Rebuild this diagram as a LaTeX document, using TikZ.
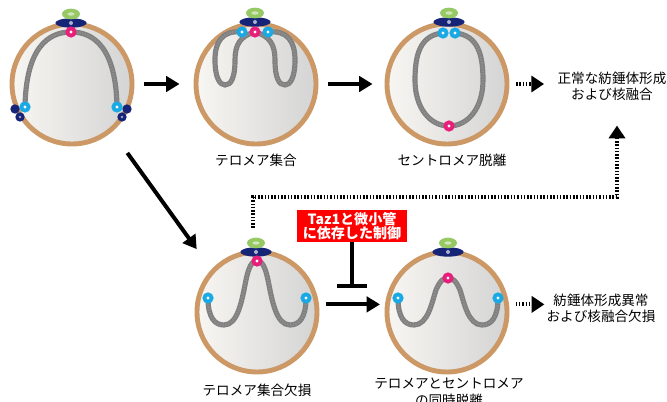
\documentclass[tikz,border=0pt]{standalone}
\usepackage{fontspec}
\setmainfont{Noto Sans CJK JP}
\usepackage{tikz}
\usetikzlibrary{positioning, arrows.meta, calc}
\definecolor{RingTan}{RGB}{204,153,102}
\definecolor{CellL}{RGB}{248,246,242}
\definecolor{CellR}{RGB}{212,212,212}
\definecolor{ChromGray}{RGB}{128,128,128}
\definecolor{ChromLight}{RGB}{142,142,142}
\definecolor{SpbGreen}{RGB}{150,200,100}
\definecolor{SpbNavy}{RGB}{22,36,120}
\definecolor{TeloCyan}{RGB}{25,170,230}
\definecolor{CenPink}{RGB}{232,30,122}
\definecolor{CtrlRed}{RGB}{255,0,0}

% spindle pole body: green cap over a navy plaque
\newcommand{\polebody}[1]{%
  \fill[SpbNavy] ($(#1)+(0,9)$) ellipse [x radius=0.47cm, y radius=0.14cm];
  \fill[white!65!SpbNavy] ($(#1)+(0,9)$) circle (0.06cm);
  \fill[SpbGreen] (#1) ellipse [x radius=0.27cm, y radius=0.16cm];
  \fill[white!55!SpbGreen] (#1) ellipse [x radius=0.11cm, y radius=0.05cm];}
% telomere / centromere bead
\newcommand{\bead}[2]{%
  \fill[#1] (#2) circle (0.17cm);
  \fill[white] (#2) circle (0.05cm);}

\begin{document}
\begin{tikzpicture}[x=0.03cm, y=-0.03cm,
    cell/.style={circle, minimum size=3.6cm, inner sep=0pt, draw=RingTan,
                 line width=4.2pt, left color=CellL, right color=CellR},
    chrom/.style={draw=ChromGray, line width=4.4pt, line cap=round,
                  postaction={draw=ChromLight, line width=2pt, line cap=butt,
                              dash pattern=on 1.2pt off 1.2pt}},
    lbl/.style={font=\fontsize{11.6}{13.8}\selectfont, inner sep=0pt, align=center},
    arr/.style={-{Triangle[length=0.4cm, width=0.46cm]}, line width=3.4pt},
    dotarr/.style={-{Triangle[length=0.38cm, width=0.48cm]}, line width=3.6pt,
                   dash pattern=on 1.3pt off 1.5pt},
    inh/.style={-{Bar[width=0.9cm]}, line width=3.4pt},
    ctrlbox/.style={fill=CtrlRed, text=white, align=center, inner sep=0pt,
                    minimum width=3.3cm, minimum height=0.96cm,
                    font=\fontsize{12}{11.6}\selectfont\bfseries}
  ]
  \useasboundingbox (0,0) rectangle (667,402);

  % cells
  \node[cell] (cellA) at (72,84) {};
  \node[cell] (cellB) at (256,84) {};
  \node[cell] (cellC) at (447,84) {};
  \node[cell] (cellD) at (257,312) {};
  \node[cell] (cellE) at (447,312) {};

  % before clustering
  \draw[chrom] (25,107) .. controls (26,48) and (48,32) .. (71,32)
               .. controls (94,32) and (116,48) .. (117,107);
  \fill[SpbNavy] (15,109) circle (0.14cm) (20,117) circle (0.14cm);
  \fill[SpbNavy] (127,109) circle (0.14cm) (122,117) circle (0.14cm);
  \fill[white!60!SpbNavy] (20,117) circle (0.04cm) (122,117) circle (0.04cm);
  \bead{TeloCyan}{25,107}
  \bead{TeloCyan}{117,107}
  \polebody{71,14}
  \bead{CenPink}{71,32}

  % telomeres clustered
  \draw[chrom] (242,32) .. controls (222,30) and (215,42) .. (215,60)
               .. controls (215,78) and (220,85) .. (225,85)
               .. controls (231,85) and (235,78) .. (235,60)
               .. controls (235,45) and (240,36) .. (255,32);
  \draw[chrom] (268,32) .. controls (288,30) and (295,42) .. (295,60)
               .. controls (295,78) and (290,85) .. (285,85)
               .. controls (279,85) and (275,78) .. (275,60)
               .. controls (275,45) and (270,36) .. (255,32);
  \polebody{255,13}
  \bead{TeloCyan}{242,32}
  \bead{TeloCyan}{268,32}
  \bead{CenPink}{255,32}

  % centromere released
  \draw[chrom] (443,33) .. controls (420,35) and (415,55) .. (415,80)
               .. controls (415,108) and (430,126) .. (449,126)
               .. controls (468,126) and (483,108) .. (483,80)
               .. controls (483,55) and (478,35) .. (455,33);
  \polebody{449,13}
  \bead{TeloCyan}{443,33}
  \bead{TeloCyan}{455,33}
  \bead{CenPink}{449,126}

  % clustering lost
  \draw[chrom] (208,298) .. controls (208,318) and (215,325) .. (224,325)
               .. controls (238,325) and (242,300) .. (246,280)
               .. controls (249,266) and (252,261) .. (257,261)
               .. controls (262,261) and (265,266) .. (268,280)
               .. controls (272,300) and (276,325) .. (290,325)
               .. controls (299,325) and (306,318) .. (306,298);
  \polebody{256,243}
  \bead{TeloCyan}{208,298}
  \bead{TeloCyan}{306,298}
  \bead{CenPink}{257,261}

  % both released at once
  \draw[chrom] (398,298) .. controls (398,318) and (405,325) .. (414,325)
               .. controls (428,325) and (432,302) .. (436,290)
               .. controls (440,281) and (443,278) .. (448,278)
               .. controls (453,278) and (456,281) .. (460,290)
               .. controls (464,302) and (468,325) .. (482,325)
               .. controls (491,325) and (498,318) .. (498,298);
  \polebody{448,243}
  \bead{TeloCyan}{398,298}
  \bead{TeloCyan}{498,298}
  \bead{CenPink}{448,278}

  % labels
  \node[lbl, below=0.23cm of cellB] (lblB) {テロメア集合};
  \node[lbl, below=0.23cm of cellC, xshift=0.15cm] (lblC) {セントロメア脱離};
  \node[lbl, below=0.28cm of cellD] (lblD) {テロメア集合欠損};
  \node[lbl, below=0.11cm of cellE, xshift=0.06cm] (lblE)
        {テロメアとセントロメア\\の同時脱離};
  \node[lbl] (normal) at (612,86) {正常な紡錘体形成\\および核融合};
  \node[lbl] (defect) at (601,308) {紡錘体形成異常\\および核融合欠損};
  \node[ctrlbox] (ctrl) at (352,226) {Taz1と微小管\\に依存した制御};

  % arrows
  \draw[arr, shorten <=0.28cm, shorten >=0.42cm] (cellA) -- (cellB);
  \draw[arr, shorten <=0.3cm, shorten >=0.36cm] (cellB) -- (cellC);
  \draw[arr, shorten <=0.78cm, shorten >=0.75cm] (cellA.-50) -- (cellD.137);
  \draw[arr, shorten <=0.2cm, shorten >=0.15cm] (cellD.7) -- (cellE.173)
        coordinate[pos=0.5] (mid);
  \draw[inh, shorten >=0.48cm] (ctrl.south) -- (ctrl.south |- mid);
  \draw[dotarr, shorten <=0.2cm, shorten >=0.4cm] (cellC.east) -- (cellC.east -| normal.west);
  \draw[dotarr, shorten <=0.2cm, shorten >=0.06cm] (cellE.7) -- (cellE.7 -| defect.west);

  % feedback to normal outcome
  \coordinate (lost) at (253,228);
  \coordinate (bend) at (253,197);
  \draw[dotarr, shorten >=0.75cm] (lost) -- (bend) -| ([xshift=0.15cm]normal.south);
\end{tikzpicture}
\end{document}
